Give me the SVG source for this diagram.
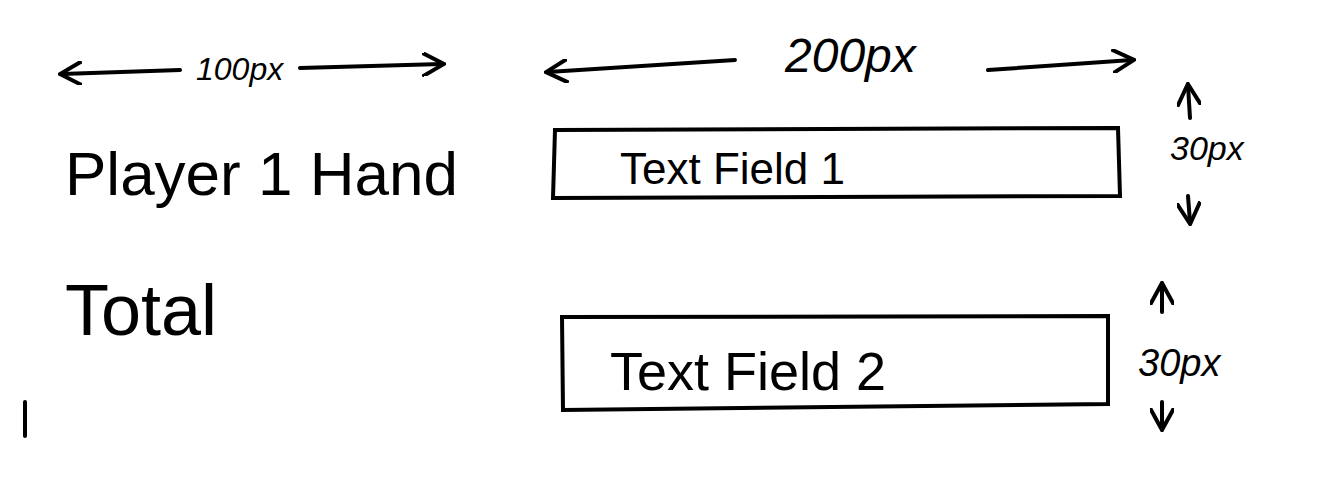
<svg xmlns="http://www.w3.org/2000/svg" width="1344" height="488" viewBox="0 0 1344 488">
<defs>
<marker id="ah" viewBox="0 0 12 12" refX="10" refY="6" markerWidth="6" markerHeight="6" orient="auto-start-reverse"><path d="M0,0 L11,6 L0,12" fill="none" stroke="#000" stroke-width="2"/></marker>
</defs>
<style>
.l{fill:none;stroke:#000;stroke-width:4;stroke-linecap:round}
.t{font-family:"Liberation Sans",sans-serif;fill:#000}
</style>
<rect width="1344" height="488" fill="#fff"/>
<g id="connectors">
<path class="l" d="M180,70 L62,74" marker-end="url(#ah)"/>
<path class="l" d="M300,68 L442,64" marker-end="url(#ah)"/>
<path class="l" d="M735,60 L548,72" marker-end="url(#ah)"/>
<path class="l" d="M988,70 L1132,60" marker-end="url(#ah)"/>
<path class="l" d="M1190,118 L1188,86" marker-end="url(#ah)"/>
<path class="l" d="M1188,196 L1190,222" marker-end="url(#ah)"/>
<path class="l" d="M1162,312 L1162,285" marker-end="url(#ah)"/>
<path class="l" d="M1162,402 L1162,428" marker-end="url(#ah)"/>
<path class="l" d="M25,402 L25,436" stroke-width="2"/>
</g>
<g id="label100"><text class="t" x="196" y="80" font-size="32" font-style="italic">100px</text></g>
<g id="label200"><text class="t" x="785" y="72" font-size="48" font-style="italic">200px</text></g>
<g id="player"><text class="t" x="65" y="195" font-size="62">Player 1 Hand</text></g>
<g id="total"><text class="t" x="65" y="335" font-size="72">Total</text></g>
<g id="field1">
<path class="l" d="M555,130 L1118,128 L1120,196 L553,198 Z"/>
<text class="t" x="620" y="184" font-size="44">Text Field 1</text>
</g>
<g id="field2">
<path class="l" d="M562,317 L1108,316 L1108,404 L563,410 Z"/>
<text class="t" x="610" y="390" font-size="54">Text Field 2</text>
</g>
<g id="h1"><text class="t" x="1170" y="160" font-size="34" font-style="italic">30px</text></g>
<g id="h2"><text class="t" x="1138" y="376" font-size="38" font-style="italic">30px</text></g>
</svg>
